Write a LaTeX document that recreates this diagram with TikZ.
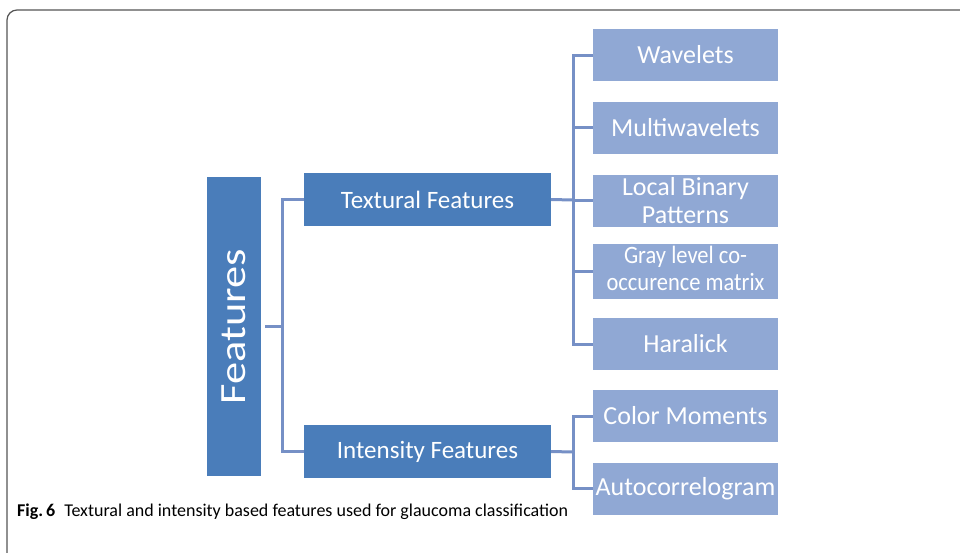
\documentclass[tikz,border=0pt]{standalone}
\usepackage{fontspec}
\setmainfont{Carlito}
\definecolor{boxdark}{HTML}{4A7DBA}
\definecolor{boxlight}{HTML}{90A8D4}
\definecolor{linec}{HTML}{7690C6}
\definecolor{framec}{HTML}{555555}
\begin{document}
\begin{tikzpicture}[x=1pt,y=-1pt,
  dark/.style={fill=boxdark, draw=none, text=white, inner sep=0pt, align=center},
  light/.style={fill=boxlight, draw=none, text=white, inner sep=0pt, align=center,
    minimum width=185pt, minimum height=52pt, font=\fontsize{26}{28}\selectfont},
  conn/.style={draw=linec, line width=3pt, line join=miter}]
\useasboundingbox (0,0) rectangle (960,552);
\fill[white] (0,0) rectangle (960,552);
\draw[framec, line width=1.2pt, rounded corners=10pt] (7,556) -- (7,10) -- (964,10);

\node[dark, minimum width=54pt, minimum height=299pt] (feat) at (234,326.5)
  {\rotatebox{90}{\scalebox{1.2}[1]{\fontsize{37}{40}\selectfont Features}}};
\node[dark, minimum width=247pt, minimum height=53pt, font=\fontsize{25}{28}\selectfont] (tex) at (427.5,199.5) {Textural Features};
\node[dark, minimum width=247pt, minimum height=53pt, font=\fontsize{25}{28}\selectfont] (int) at (427.5,451.5) {Intensity Features};

\node[light] (c1) at (685.5,55) {Wavelets};
\node[light] (c2) at (685.5,127.5) {Multiwavelets};
\node[light] (c3) at (685.5,200.5) {Local Binary\\Patterns};
\node[light] (c4) at (685.5,271.5) {\scalebox{0.9}[1]{\fontsize{25}{28}\selectfont\begin{tabular}{@{}c@{}}Gray level co-\\[-1pt]occurence matrix\end{tabular}}};
\node[light] (c5) at (685.5,344) {Haralick};
\node[light] (c6) at (685.5,416) {Color Moments};
\node[light] (c7) at (685.5,488.5) {Autocorrelogram};

\coordinate (fb) at (282,326.5);
\coordinate (tb) at (573,200);
\coordinate (ib) at (573,452);

\draw[conn, shorten <=4pt] (feat.east) -- (fb);
\draw[conn] (tex.west) -| (fb) |- (int.west);
\draw[conn] (tex.east) -- (tb);
\draw[conn] (c1.west) -| (tb) |- (c5.west);
\draw[conn] (tb |- c2.west) -- (c2.west);
\draw[conn] (tb |- c3.west) -- (c3.west);
\draw[conn] (tb |- c4.west) -- (c4.west);
\draw[conn] (int.east) -- (ib);
\draw[conn] (c6.west) -| (ib) |- (c7.west);

\node[anchor=west, inner sep=0pt, text=black, font=\fontsize{18}{22}\selectfont] (cap) at (17,512)
  {\textbf{Fig.\,6}\enspace Textural and intensity based features used for glaucoma classification};
\end{tikzpicture}
\end{document}
